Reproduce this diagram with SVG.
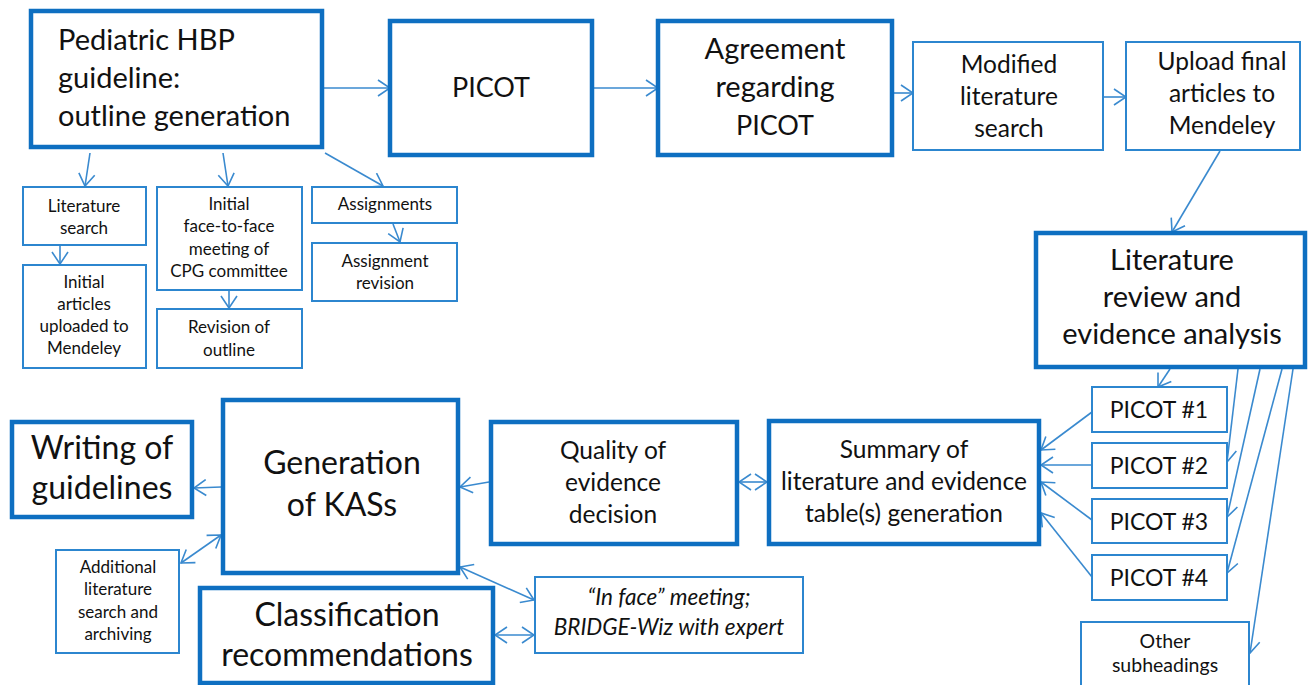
<svg xmlns="http://www.w3.org/2000/svg" width="1308" height="685" viewBox="0 0 1308 685">
  <style>
    .thick { fill: #ffffff; stroke: #0E6FC1; stroke-width: 4.5; }
    .thin { fill: #ffffff; stroke: #2C86CF; stroke-width: 2; }
    .t { font-family: Lato, "Liberation Sans", sans-serif; fill: #111111; text-anchor: middle; }
    .xxl { font-size: 32px; }
    .xl { font-size: 29px; }
    .lg { font-size: 27px; }
    .md { font-size: 24.5px; }
    .pc { font-size: 23px; }
    .it { font-size: 22.5px; font-style: italic; }
    .oth { font-size: 19.5px; }
    .sm { font-size: 17px; }
    .conn line { stroke: #3A8ACF; stroke-width: 1.6; fill: none; }
  </style>
  <defs>
    <marker id="arr" markerUnits="userSpaceOnUse" viewBox="0 0 14 18" markerWidth="14" markerHeight="18" refX="13" refY="9" orient="auto-start-reverse">
      <path d="M1,1 L13,9 L1,17" fill="none" stroke="#3A8ACF" stroke-width="1.6"/>
    </marker>
  </defs>

  <!-- connectors -->
  <g id="connectors" class="conn">
    <line x1="324" y1="88" x2="390" y2="88" marker-end="url(#arr)"/>
    <line x1="594" y1="88" x2="658" y2="88" marker-end="url(#arr)"/>
    <line x1="894" y1="93" x2="913" y2="93" marker-end="url(#arr)"/>
    <line x1="1104" y1="97" x2="1126" y2="97" marker-end="url(#arr)"/>
    <line x1="1220" y1="151" x2="1172" y2="232" marker-end="url(#arr)"/>
    <line x1="1170" y1="369" x2="1158" y2="387" marker-end="url(#arr)"/>
    <line x1="1238" y1="369" x2="1227" y2="462" marker-end="url(#arr)"/>
    <line x1="1260" y1="369" x2="1227" y2="517" marker-end="url(#arr)"/>
    <line x1="1282" y1="369" x2="1227" y2="573" marker-end="url(#arr)"/>
    <line x1="1293" y1="369" x2="1250" y2="653" marker-end="url(#arr)"/>
    <line x1="1092" y1="412" x2="1041" y2="450" marker-end="url(#arr)"/>
    <line x1="1092" y1="465" x2="1041" y2="465" marker-end="url(#arr)"/>
    <line x1="1092" y1="520" x2="1041" y2="482" marker-end="url(#arr)"/>
    <line x1="1092" y1="577" x2="1041" y2="513" marker-end="url(#arr)"/>
    <line x1="739" y1="482" x2="767" y2="482" marker-start="url(#arr)" marker-end="url(#arr)"/>
    <line x1="489" y1="482" x2="460" y2="487" marker-end="url(#arr)"/>
    <line x1="221" y1="487" x2="194" y2="488" marker-end="url(#arr)"/>
    <line x1="181" y1="563" x2="221" y2="535" marker-start="url(#arr)" marker-end="url(#arr)"/>
    <line x1="460" y1="567" x2="534" y2="600" marker-start="url(#arr)" marker-end="url(#arr)"/>
    <line x1="495" y1="635" x2="534" y2="635" marker-start="url(#arr)" marker-end="url(#arr)"/>
    <line x1="90" y1="153" x2="85" y2="186" marker-end="url(#arr)"/>
    <line x1="223" y1="153" x2="228" y2="186" marker-end="url(#arr)"/>
    <line x1="325" y1="153" x2="383" y2="186" marker-end="url(#arr)"/>
    <line x1="60" y1="246" x2="60" y2="264" marker-end="url(#arr)"/>
    <line x1="229" y1="291" x2="229" y2="308" marker-end="url(#arr)"/>
    <line x1="393" y1="224" x2="400" y2="242" marker-end="url(#arr)"/>
  </g>

  <!-- top row -->
  <g id="outline">
    <rect class="thick" x="31" y="11" width="291" height="136"/>
    <text class="t xl" style="text-anchor:start" x="58" y="50">Pediatric HBP</text>
    <text class="t xl" style="text-anchor:start" x="58" y="88">guideline:</text>
    <text class="t xl" style="text-anchor:start" x="58" y="126">outline generation</text>
  </g>
  <g id="picot">
    <rect class="thick" x="390" y="21" width="202" height="134"/>
    <text class="t lg" x="491" y="97">PICOT</text>
  </g>
  <g id="agreement">
    <rect class="thick" x="658" y="21" width="234" height="134"/>
    <text class="t xl" x="775" y="59">Agreement</text>
    <text class="t xl" x="775" y="97">regarding</text>
    <text class="t lg" x="775" y="135">PICOT</text>
  </g>
  <g id="modified-search">
    <rect class="thin" x="913" y="42" width="190" height="108"/>
    <text class="t md" x="1009" y="73">Modified</text>
    <text class="t md" x="1009" y="105">literature</text>
    <text class="t md" x="1009" y="137">search</text>
  </g>
  <g id="upload-final">
    <rect class="thin" x="1126" y="42" width="174" height="108"/>
    <text class="t md" x="1222" y="70">Upload final</text>
    <text class="t md" x="1222" y="102">articles to</text>
    <text class="t md" x="1222" y="134">Mendeley</text>
  </g>

  <!-- outline sub-steps -->
  <g id="lit-search">
    <rect class="thin" x="23" y="187" width="123" height="58"/>
    <text class="t sm" x="84" y="212">Literature</text>
    <text class="t sm" x="84" y="234">search</text>
  </g>
  <g id="initial-articles">
    <rect class="thin" x="23" y="265" width="123" height="103"/>
    <text class="t sm" x="84" y="288">Initial</text>
    <text class="t sm" x="84" y="310">articles</text>
    <text class="t sm" x="84" y="332">uploaded to</text>
    <text class="t sm" x="84" y="354">Mendeley</text>
  </g>
  <g id="face-to-face">
    <rect class="thin" x="157" y="187" width="145" height="103"/>
    <text class="t sm" x="229" y="210">Initial</text>
    <text class="t sm" x="229" y="232">face-to-face</text>
    <text class="t sm" x="229" y="255">meeting of</text>
    <text class="t sm" x="229" y="277">CPG committee</text>
  </g>
  <g id="revision-outline">
    <rect class="thin" x="157" y="309" width="145" height="59"/>
    <text class="t sm" x="229" y="333">Revision of</text>
    <text class="t sm" x="229" y="356">outline</text>
  </g>
  <g id="assignments">
    <rect class="thin" x="312" y="187" width="145" height="36"/>
    <text class="t sm" x="385" y="210">Assignments</text>
  </g>
  <g id="assignment-revision">
    <rect class="thin" x="312" y="243" width="145" height="58"/>
    <text class="t sm" x="385" y="267">Assignment</text>
    <text class="t sm" x="385" y="289">revision</text>
  </g>

  <!-- review column -->
  <g id="lit-review">
    <rect class="thick" x="1036" y="233" width="269" height="134"/>
    <text class="t xl" x="1172" y="270">Literature</text>
    <text class="t xl" x="1172" y="307">review and</text>
    <text class="t xl" x="1172" y="344">evidence analysis</text>
  </g>
  <g id="picot-1">
    <rect class="thin" x="1092" y="387" width="135" height="45"/>
    <text class="t pc" x="1159" y="418">PICOT #1</text>
  </g>
  <g id="picot-2">
    <rect class="thin" x="1092" y="443" width="135" height="45"/>
    <text class="t pc" x="1159" y="474">PICOT #2</text>
  </g>
  <g id="picot-3">
    <rect class="thin" x="1092" y="499" width="135" height="44"/>
    <text class="t pc" x="1159" y="530">PICOT #3</text>
  </g>
  <g id="picot-4">
    <rect class="thin" x="1092" y="555" width="135" height="45"/>
    <text class="t pc" x="1159" y="586">PICOT #4</text>
  </g>
  <g id="other-subheadings">
    <rect class="thin" x="1081" y="622" width="168" height="75"/>
    <text class="t oth" x="1165" y="648">Other</text>
    <text class="t oth" x="1165" y="672">subheadings</text>
  </g>

  <!-- bottom row -->
  <g id="summary">
    <rect class="thick" x="769" y="421" width="270" height="123"/>
    <text class="t md" x="904" y="458">Summary of</text>
    <text class="t md" x="904" y="490">literature and evidence</text>
    <text class="t md" x="904" y="522">table(s) generation</text>
  </g>
  <g id="quality">
    <rect class="thick" x="491" y="422" width="246" height="122"/>
    <text class="t md" x="613" y="459">Quality of</text>
    <text class="t md" x="613" y="491">evidence</text>
    <text class="t md" x="613" y="523">decision</text>
  </g>
  <g id="generation-kas">
    <rect class="thick" x="223" y="400" width="235" height="173"/>
    <text class="t xxl" x="342" y="474">Generation</text>
    <text class="t xxl" x="342" y="516">of KASs</text>
  </g>
  <g id="writing">
    <rect class="thick" x="12" y="422" width="180" height="95"/>
    <text class="t xxl" x="102" y="459">Writing of</text>
    <text class="t xxl" x="102" y="499">guidelines</text>
  </g>
  <g id="additional-search">
    <rect class="thin" x="56" y="550" width="123" height="103"/>
    <text class="t sm" x="118" y="573">Additional</text>
    <text class="t sm" x="118" y="595">literature</text>
    <text class="t sm" x="118" y="618">search and</text>
    <text class="t sm" x="118" y="640">archiving</text>
  </g>
  <g id="classification">
    <rect class="thick" x="200" y="588" width="293" height="95"/>
    <text class="t xxl" x="347" y="626">Classification</text>
    <text class="t xxl" x="347" y="666">recommendations</text>
  </g>
  <g id="in-face">
    <rect class="thin" x="535" y="577" width="268" height="76"/>
    <text class="t it" x="669" y="605">“In face” meeting;</text>
    <text class="t it" x="669" y="635">BRIDGE-Wiz with expert</text>
  </g>
</svg>
